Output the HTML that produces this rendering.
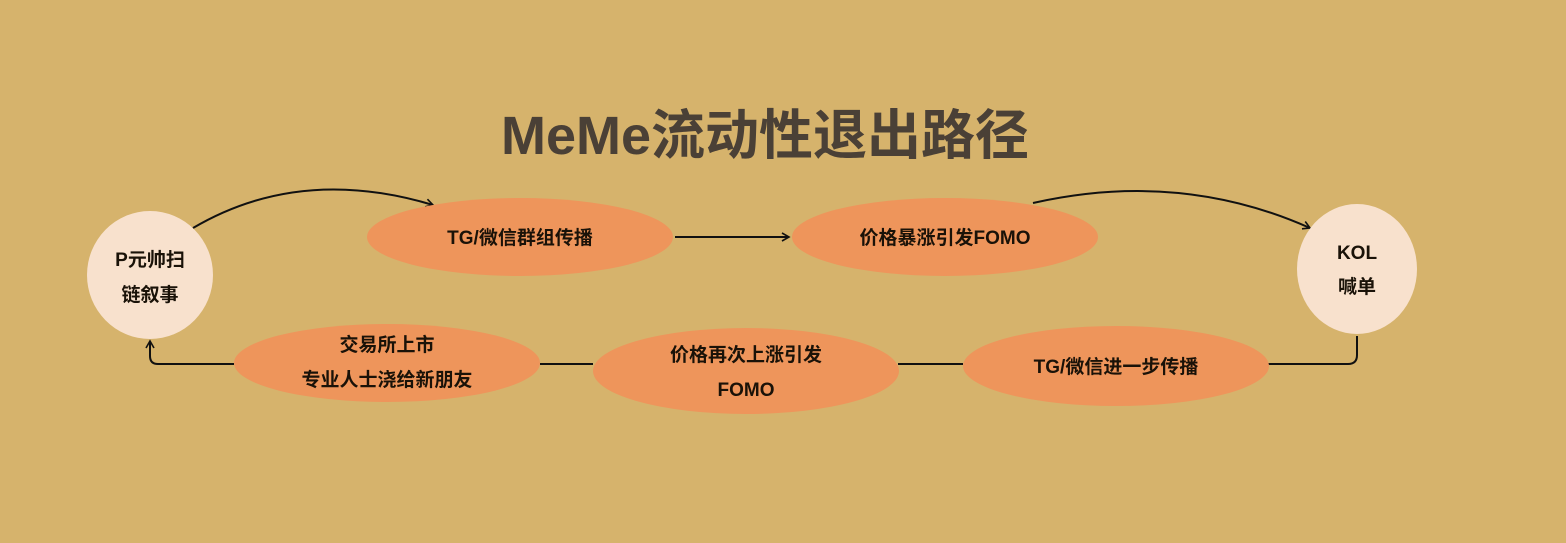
<!DOCTYPE html>
<html><head><meta charset="utf-8"><style>
body{margin:0;width:1566px;height:538px;background:#d6b36c;overflow:hidden}
svg text{font-family:"Liberation Sans","Noto Sans CJK SC",sans-serif;font-weight:bold;fill:#1a1208;text-anchor:middle}
</style></head><body>
<svg width="1566" height="538" viewBox="0 0 1566 538">
<defs><marker id="a" markerWidth="10" markerHeight="10" refX="8" refY="5" orient="auto" markerUnits="userSpaceOnUse"><path d="M1,1 L8,5 L1,9" fill="none" stroke="#111" stroke-width="1.6"/></marker></defs>
<text x="765" y="154" style="font-size:54px;fill:#4a4036">MeMe流动性退出路径</text>
<g stroke="#111" stroke-width="2" fill="none">
<path d="M193,228 Q300,165 433,205" marker-end="url(#a)"/>
<path d="M675,237 L789,237" marker-end="url(#a)"/>
<path d="M1033,203 Q1180,170 1310,228" marker-end="url(#a)"/>
<path d="M1357,336 L1357,355 Q1357,364 1348,364 L1268,364"/>
<path d="M898,364 L963,364"/>
<path d="M540,364 L593,364"/>
<path d="M234,364 L158,364 Q150,364 150,356 L150,341" marker-end="url(#a)"/>
</g>
<ellipse cx="150" cy="275" rx="63" ry="64" fill="#f8e1cd"/>
<ellipse cx="1357" cy="269" rx="60" ry="65" fill="#f8e1cd"/>
<g fill="#ee955b">
<ellipse cx="520" cy="237" rx="153" ry="39"/>
<ellipse cx="945" cy="237" rx="153" ry="39"/>
<ellipse cx="387" cy="363" rx="153" ry="39"/>
<ellipse cx="746" cy="371" rx="153" ry="43"/>
<ellipse cx="1116" cy="366" rx="153" ry="40"/>
</g>
<g style="font-size:19px">
<text x="150" y="266">P元帅扫</text>
<text x="150" y="301">链叙事</text>
<text x="1357" y="259">KOL</text>
<text x="1357" y="293">喊单</text>
<text x="520" y="244">TG/微信群组传播</text>
<text x="945" y="244">价格暴涨引发FOMO</text>
<text x="387" y="351">交易所上市</text>
<text x="387" y="386">专业人士浇给新朋友</text>
<text x="746" y="361">价格再次上涨引发</text>
<text x="746" y="396">FOMO</text>
<text x="1116" y="373">TG/微信进一步传播</text>
</g>
</svg>
</body></html>
